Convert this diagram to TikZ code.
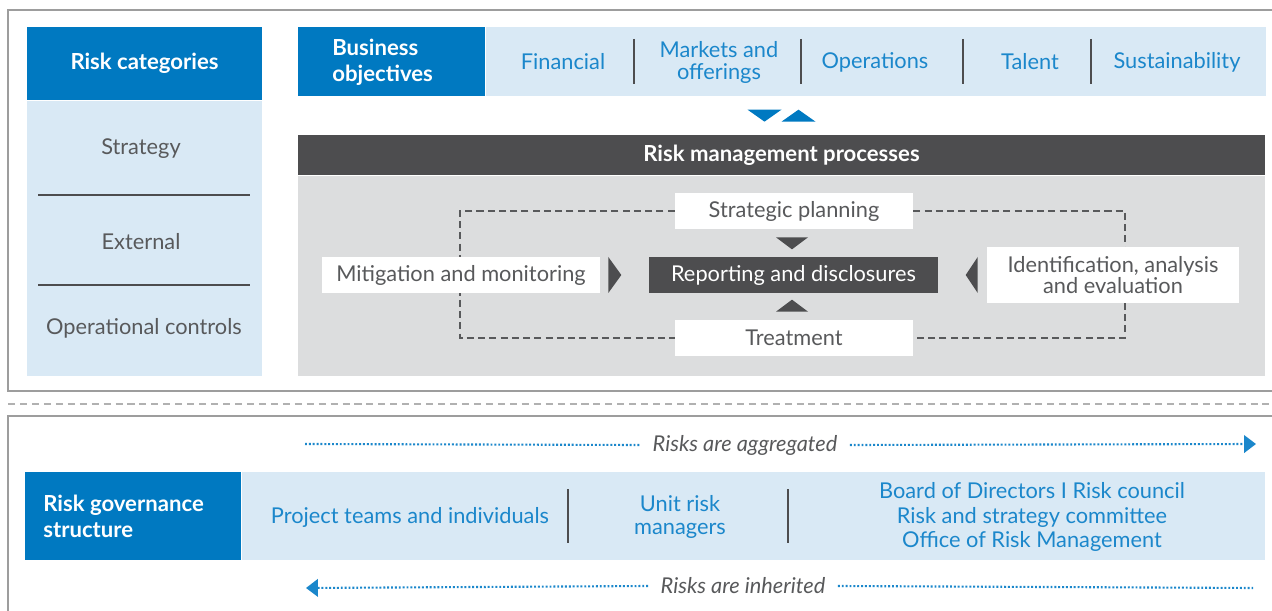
\documentclass[tikz,border=0pt]{standalone}
\usepackage{fontspec}
\setmainfont{Lato}
\usetikzlibrary{calc,arrows.meta}

\definecolor{rblue}{HTML}{0079C1}
\definecolor{rlight}{HTML}{D9E9F5}
\definecolor{rtext}{HTML}{1B87CB}
\definecolor{rgray}{HTML}{58595B}
\definecolor{rdark}{HTML}{4D4D4F}
\definecolor{rpanel}{HTML}{DCDDDE}
\definecolor{rframe}{HTML}{9D9D9D}

\tikzset{
	cell/.style={inner sep=0pt, align=center},
	head/.style={cell, fill=rblue, text=white, font=\bfseries\fontsize{12.6}{14.8}\selectfont},
	band/.style={cell, fill=rlight},
	bluetxt/.style={cell, text=rtext, font=\fontsize{12.4}{12.5}\selectfont},
	graytxt/.style={cell, text=rgray, font=\fontsize{12.4}{12}\selectfont},
	stagebox/.style={graytxt, fill=white, minimum height=0.72cm},
	sep/.style={rdark, line width=0.8pt},
	loopline/.style={rgray, line width=0.75pt, dash pattern=on 4pt off 2.4pt},
	dotline/.style={rtext, line width=1.2pt, dash pattern=on 1.1pt off 1.1pt},
	tip/.style={-{Triangle[length=6.8pt, width=10pt]}},
}

\begin{document}
\begin{tikzpicture}[x=0.02cm, y=-0.02cm]
	\useasboundingbox (0,0) rectangle (1272,611);
	% frames
	\draw[rframe, line width=0.8pt] (8,10) rectangle (1290,391);
	\draw[rframe!80, line width=0.6pt, dash pattern=on 4pt off 2.8pt] (8,404) -- (1272,404);
	\draw[rframe, line width=0.8pt] (8,416) rectangle (1290,640);

	% risk categories
	\node[head, minimum width=4.7cm, minimum height=1.46cm] (cathead) at (144.5,63.5) {Risk categories};
	\node[band, minimum width=4.7cm, minimum height=5.5cm, anchor=north] (catbody) at (cathead.south) {};
	\node[graytxt] (strat) at (141,149) {Strategy};
	\node[graytxt] (extern) at (141,242) {External};
	\node[graytxt] (opctl) at (144,328) {Operational controls};
	\draw[sep] (38,195) -- (250,195);
	\draw[sep] (38,285) -- (250,285);

	% business objectives
	\node[head, minimum width=3.74cm, minimum height=1.38cm] (objhead) at (391.5,61.5) {};
	\node[head, align=left, anchor=west] (objtxt) at (332,62) {Business\\objectives};
	\node[band, minimum width=15.6cm, minimum height=1.38cm, anchor=west] (objbody) at (objhead.east) {};
	\node[bluetxt] (fin) at (563,62) {Financial};
	\node[bluetxt] (mkt) at (719,62) {Markets and\\offerings};
	\node[bluetxt] (ops) at (875,62) {Operations};
	\node[bluetxt] (tal) at (1030,62) {Talent};
	\node[bluetxt] (sus) at (1177,62) {Sustainability};
	\foreach \x in {634,801,963,1091}
		\draw[sep] (\x,39) -- (\x,84);

	% risk management processes
	\node[cell, fill=rdark, text=white, font=\bfseries\fontsize{12.6}{13}\selectfont,
		minimum width=19.34cm, minimum height=0.8cm] (rmhead) at (781.5,155) {Risk management processes};
	\node[cell, fill=rpanel, minimum width=19.34cm, minimum height=4cm, anchor=north] (rmbody) at (rmhead.south) {};
	\fill[rblue] ($(rmhead.north)+(-34,-25)$) -- ++(34,0) -- ++(-17,12) -- cycle;
	\fill[rblue] ($(rmhead.north)+(0,-13)$) -- ++(34,0) -- ++(-17,-12) -- cycle;

	\node[stagebox, minimum width=4.76cm] (plan) at (794,211) {Strategic planning};
	\node[stagebox, minimum width=4.76cm] (treat) at (794,338) {Treatment};
	\coordinate (loopw) at (460,275);
	\coordinate (loope) at (1125,275);
	\draw[loopline] (plan.west) -- (plan.west -| loopw) -- (treat.west -| loopw) -- (treat.west);
	\draw[loopline] (plan.east) -- (plan.east -| loope) -- (treat.east -| loope) -- (treat.east);
	\node[stagebox, minimum width=5.56cm] (mitig) at (461,275) {Mitigation and monitoring};
	\node[stagebox, minimum width=5.04cm, minimum height=1.12cm] (ident) at (1113,275) {Identification, analysis\\and evaluation};
	\node[stagebox, fill=rdark, text=white, minimum width=5.78cm] (report) at (793.5,275) {Reporting and disclosures};
	\fill[rdark] ($(plan.south)+(-18,8)$) -- ++(32,0) -- ++(-16,12) -- cycle;
	\fill[rdark] ($(treat.north)+(-18,-8)$) -- ++(32,0) -- ++(-16,-12) -- cycle;
	\fill[rdark] ($(mitig.east)+(8,-18)$) -- ++(0,36) -- ++(13,-18) -- cycle;
	\fill[rdark] ($(ident.west)+(-9,-18)$) -- ++(0,36) -- ++(-12,-18) -- cycle;

	% risk governance
	\node[head, minimum width=4.32cm, minimum height=1.76cm] (govhead) at (133,516) {};
	\node[head, align=left, anchor=west] (govtxt) at (43,516) {Risk governance\\structure};
	\node[band, minimum width=20.48cm, minimum height=1.76cm, anchor=west] (govbody) at (govhead.east) {};
	\node[bluetxt] (teams) at (410,517) {Project teams and individuals};
	\node[bluetxt, font=\fontsize{12.4}{13.6}\selectfont] (unit) at (680,517) {Unit risk\\managers};
	\node[bluetxt, font=\fontsize{12.4}{13.9}\selectfont] (board) at (1032,517) {Board of Directors I Risk council\\Risk and strategy committee\\Office of Risk Management};
	\foreach \x in {568,788}
		\draw[sep] (\x,489) -- (\x,543);

	% flows
	\node[graytxt, font=\itshape\fontsize{12.4}{12}\selectfont, inner xsep=7pt] (agg) at (745,445) {Risks are aggregated};
	\coordinate (aggl) at (305,444);
	\coordinate (aggr) at (1256,444);
	\draw[dotline] (aggl) -- (agg.west);
	\draw[dotline, tip] (agg.east) -- (aggr);
	\node[graytxt, font=\itshape\fontsize{12.4}{12}\selectfont, inner xsep=7pt] (inh) at (743,586) {Risks are inherited};
	\coordinate (inhl) at (306,588);
	\coordinate (inhr) at (1253,588);
	\draw[dotline, tip] (inh.west) -- (inhl);
	\draw[dotline] (inh.east) -- (inhr);
\end{tikzpicture}
\end{document}
